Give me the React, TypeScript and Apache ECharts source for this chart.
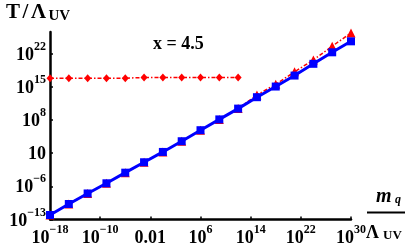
import React, { useEffect, useRef } from 'react';
import * as echarts from 'echarts';

// log10 values
const xTicks = [-18, -10, -2, 6, 14, 22, 30];
const yTicks = [-13, -6, 1, 8, 15, 22];
const xDecades = [-18, -15, -12, -9, -6, -3, 0, 3, 6, 9, 12, 15, 18, 21, 24, 27, 30];
const blueLogT = [-12.05, -9.72, -7.5, -5.35, -3.11, -0.91, 1.27, 3.53, 5.86, 8.14, 10.42, 12.83, 15.08, 17.4, 19.88, 22.31, 24.63];
const redLogT = [-12.05, -9.72, -7.5, -5.35, -3.11, -0.91, 1.27, 3.53, 5.86, 8.14, 10.42, 13.3, 15.55, 18.2, 20.7, 23.6, 26.4];
const flatX = [-18, -15, -12, -9, -6, -3, 0, 3, 6, 9, 12];
const flatLogT = [16.85, 16.85, 16.85, 16.85, 16.85, 17.0, 17.0, 17.0, 17.0, 17.0, 17.0];

const FONT = '"Liberation Serif", "DejaVu Serif", serif';

const rich = {
  b: { fontSize: 18, fontWeight: 'bold', fontFamily: FONT, color: '#000', lineHeight: 18, verticalAlign: 'bottom' },
  s: { fontSize: 12, fontWeight: 'bold', fontFamily: FONT, color: '#000', lineHeight: 12, padding: [0, 0, 11, 0], verticalAlign: 'bottom' },
  p: { fontSize: 18, fontWeight: 'bold', fontFamily: FONT, color: '#000', lineHeight: 18, padding: [5, 0, 0, 0], verticalAlign: 'bottom' },
  c: { fontSize: 18, fontWeight: 'bold', fontFamily: FONT, color: '#000', lineHeight: 18 },
};

function fmt(v: number, axis: 'x' | 'y'): string {
  const r = Math.round(v);
  if (r === -2) return '{p|0.01}';
  if (r === 1) return axis === 'y' ? '{c|10}' : '{p|10}';
  const e = r < 0 ? '\u2212' + Math.abs(r) : String(r);
  return `{b|10}{s|${e}}`;
}

const dashDot = [4, 2, 1.5, 2];

export default function App() {
  const ref = useRef<HTMLDivElement>(null);
  useEffect(() => {
    if (!ref.current) return;
    const chart = echarts.init(ref.current, null, { renderer: 'svg' });
    const pair = (xs: number[], ys: number[]) => xs.map((x, i) => [x, ys[i]]);
    chart.setOption({
      animation: false,
      grid: { left: 50, right: 56, top: 32, bottom: 31.5, containLabel: false },
      xAxis: {
        type: 'value',
        min: -18,
        max: 30,
        splitLine: { show: false },
        axisLine: { onZero: false, lineStyle: { color: '#000', width: 2.5 } },
        axisTick: { inside: true, length: 3, customValues: xTicks, lineStyle: { color: '#000', width: 1.5 } },
        axisLabel: {
          customValues: xTicks,
          margin: 8,
          formatter: (v: number) => fmt(v, 'x'),
          rich,
        },
      },
      yAxis: {
        type: 'value',
        min: -13,
        max: 26.6,
        splitLine: { show: false },
        axisLine: { onZero: false, lineStyle: { color: '#000', width: 2.5 } },
        axisTick: { inside: true, length: 3, customValues: yTicks, lineStyle: { color: '#000', width: 1.5 } },
        axisLabel: {
          customValues: yTicks,
          margin: 4,
          formatter: (v: number) => fmt(v, 'y'),
          rich,
        },
      },
      series: [
        {
          type: 'line',
          data: pair(flatX, flatLogT),
          symbol: 'diamond',
          symbolSize: [7, 8],
          itemStyle: { color: '#ff0000' },
          lineStyle: { color: '#ff0000', width: 1.5, type: dashDot },
          z: 2,
        },
        {
          type: 'line',
          data: pair(xDecades, redLogT),
          symbol: 'triangle',
          symbolSize: 9,
          itemStyle: { color: '#ff0000' },
          lineStyle: { color: '#ff0000', width: 1.5, type: dashDot },
          z: 3,
        },
        {
          type: 'line',
          data: pair(xDecades, blueLogT),
          symbol: 'rect',
          symbolSize: 8,
          itemStyle: { color: '#0000ff' },
          lineStyle: { color: '#0000ff', width: 3 },
          z: 4,
        },
      ],
      graphic: [
        { type: 'text', left: 6, top: 0.5, style: { text: 'T', font: `bold 21px ${FONT}`, fill: '#000' } },
        { type: 'text', left: 22.5, top: 0.5, style: { text: '/', font: `bold 21px ${FONT}`, fill: '#000' } },
        { type: 'text', left: 31, top: 0.5, style: { text: '\u039B', font: `bold 21px ${FONT}`, fill: '#000' } },
        { type: 'text', left: 48.5, top: 7.5, style: { text: 'UV', font: `bold 15px ${FONT}`, fill: '#000' } },
        { type: 'text', left: 153, top: 33.5, style: { text: 'x = 4.5', font: `bold 18px ${FONT}`, fill: '#000' } },
        { type: 'text', left: 376, top: 185, style: { text: 'm', font: `italic bold 20px ${FONT}`, fill: '#000' } },
        { type: 'text', left: 395, top: 193, style: { text: 'q', font: `italic bold 12px ${FONT}`, fill: '#000' } },
        { type: 'line', shape: { x1: 367, y1: 212.5, x2: 405, y2: 212.5 }, style: { stroke: '#000', lineWidth: 2 } },
        { type: 'text', left: 366, top: 223, style: { text: '\u039B', font: `bold 18px ${FONT}`, fill: '#000' } },
        { type: 'text', left: 383, top: 227.5, style: { text: 'UV', font: `bold 13px ${FONT}`, fill: '#000' } },
      ],
    });
    return () => chart.dispose();
  }, []);
  return <div ref={ref} style={{ position: 'fixed', left: 0, top: 0, width: 407, height: 251 }} />;
}
